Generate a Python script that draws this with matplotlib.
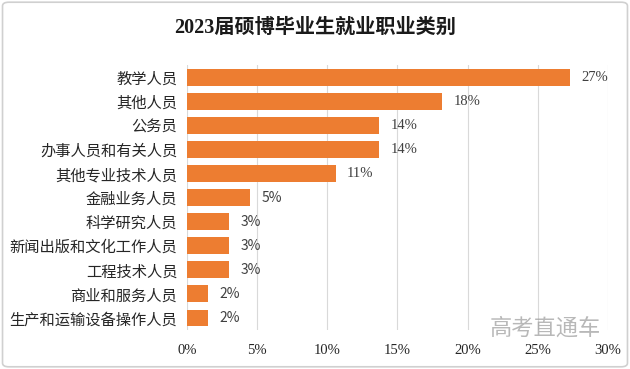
import matplotlib.pyplot as plt
from matplotlib.patches import FancyBboxPatch
from matplotlib.ticker import FuncFormatter

# 职业类别与占比（%），从上到下
categories = ["教学人员", "其他人员", "公务员", "办事人员和有关人员", "其他专业技术人员",
              "金融业务人员", "科学研究人员", "新闻出版和文化工作人员", "工程技术人员",
              "商业和服务人员", "生产和运输设备操作人员"]
values = [27.3, 18.2, 13.7, 13.7, 10.6, 4.5, 3.0, 3.0, 3.0, 1.5, 1.5]
value_labels = ["27%", "18%", "14%", "14%", "11%", "5%", "3%", "3%", "3%", "2%", "2%"]
xticks = [0, 5, 10, 15, 20, 25, 30]

plt.rcParams['font.family'] = ['Noto Sans CJK SC', 'DejaVu Sans']

fig = plt.figure(figsize=(6.3, 3.69), dpi=100)
ax = fig.add_axes([0.2968, 0.1057, 0.668, 0.718])

y = list(range(len(categories)))
ax.barh(y, values, height=0.7, color="#ED7D31", zorder=3)
ax.set_ylim(len(categories) - 0.5, -0.5)
ax.set_xlim(0, 30)

for yi, v, lab in zip(y, values, value_labels):
    # 原图中个位数标签用的是无衬线字体
    fam = ['Liberation Serif', 'Noto Sans CJK SC'] if v >= 10 else ['Noto Sans CJK SC']
    ax.text(v + 0.8, yi, lab, va="center", ha="left", fontsize=10.5 if v >= 10 else 10,
            color="#404040", family=fam)

ax.set_yticks(y)
ax.set_yticklabels(categories, fontsize=11, color="#262626")
ax.set_xticks(xticks)
ax.xaxis.set_major_formatter(FuncFormatter(lambda v, p: f"{v:.0f}%"))
for t in ax.get_xticklabels():
    t.set_family(['Liberation Serif', 'DejaVu Sans'])
    t.set_fontsize(10.5)
    t.set_color("#262626")
ax.tick_params(axis="both", length=0)
ax.tick_params(axis="y", pad=7)
ax.tick_params(axis="x", pad=10)

ax.grid(axis="x", color="#d9d9d9", linewidth=0.8, zorder=0)
for s in ["top", "right", "bottom", "left"]:
    ax.spines[s].set_visible(False)

fig.text(0.5, 0.925, "2023届硕博毕业生就业职业类别", ha="center", va="center",
         fontsize=14.5, fontweight="bold", color="#1a1a1a",
         family=['Liberation Serif', 'Noto Sans CJK SC'])

# 水印
fig.text(0.865, 0.11, "高考直通车", ha="center", va="center", fontsize=16,
         color="#a0a0a0", alpha=0.75)

# 外框
fig.patches.append(FancyBboxPatch((0.004, 0.006), 0.992, 0.988,
                                  boxstyle="round,pad=0,rounding_size=0.01",
                                  transform=fig.transFigure, fill=False,
                                  edgecolor="#d0d0d0", linewidth=1.2))

fig.savefig("out.png", dpi=100)
